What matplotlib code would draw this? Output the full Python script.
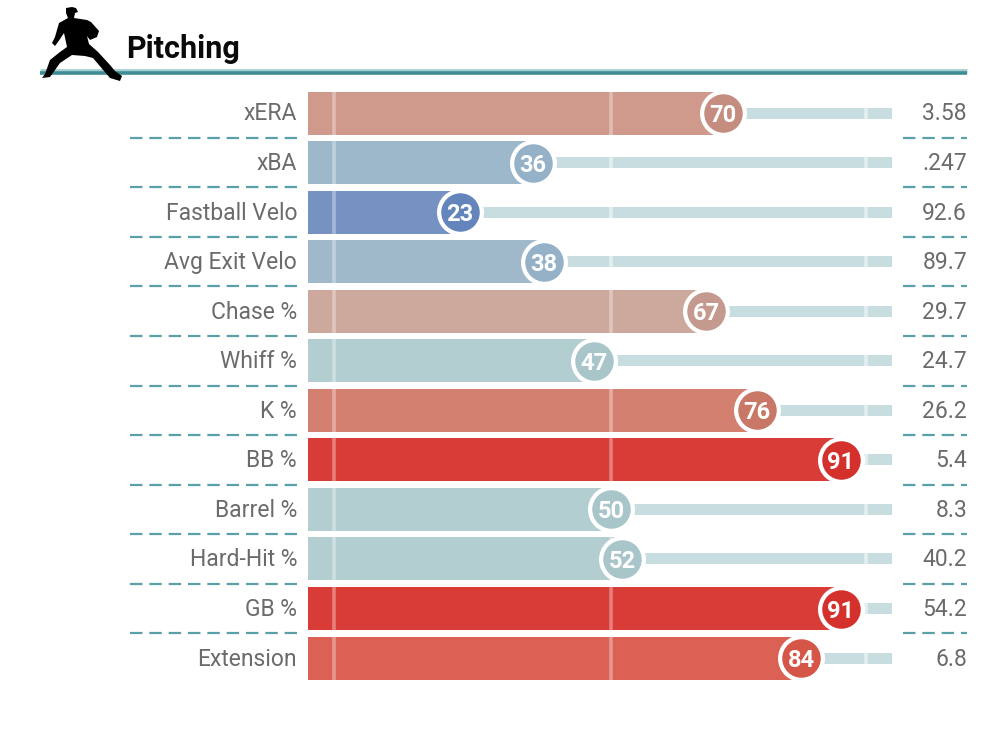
import matplotlib
matplotlib.use('Agg')
import matplotlib.pyplot as plt
from matplotlib.patches import Polygon

metrics = ['xERA', 'xBA', 'Fastball Velo', 'Avg Exit Velo', 'Chase %', 'Whiff %',
           'K %', 'BB %', 'Barrel %', 'Hard-Hit %', 'GB %', 'Extension']
percentiles = [70, 36, 23, 38, 67, 47, 76, 91, 50, 52, 91, 84]
stats = ['3.58', '.247', '92.6', '89.7', '29.7', '24.7', '26.2', '5.4', '8.3', '40.2', '54.2', '6.8']
bar_colors = ['#cf9a8c', '#9db8cb', '#7592c2', '#9fb9cb', '#cda89c', '#b2ced1',
              '#d48070', '#d93c37', '#b3ced1', '#b3ced1', '#d93c37', '#da6153']
dot_colors = ['#c58c80', '#94b1c8', '#6485bb', '#94b1c8', '#c59a8e', '#a8c5c9',
              '#c97868', '#d4302c', '#a8c5c9', '#a8c5c9', '#d4302c', '#d55547']
guide_lines = [0.5, 50, 95.5]

TEAL = '#3f8c93'
TRACK = '#c8dde0'
FONT = ['Roboto', 'DejaVu Sans']

# pixel layout of the reference
W, H = 1005, 733
X0, PX_PER_PCT = 331, 5.6
Y0, ROW = 113, 49.55

def px(x):
    return (x - X0) / PX_PER_PCT

def py(y):
    return (y - Y0) / ROW

fig = plt.figure(figsize=(W / 100, H / 100), dpi=100)
ax = fig.add_axes([0, 0, 1, 1])
ax.set_xlim(px(0), px(W))
ax.set_ylim(py(H), py(0))
ax.axis('off')

bar_h = 43 / ROW
track_h = 11 / ROW
bar_left = px(308)
text_shift = 1.5 / ROW

for i, (name, pct, stat) in enumerate(zip(metrics, percentiles, stats)):
    ax.barh(i, 100.1 - pct, left=pct, height=track_h, color=TRACK, zorder=1)
    ax.barh(i, pct - bar_left, left=bar_left, height=bar_h, color=bar_colors[i], zorder=2)
    # guides: full height over the bar, thin over the track
    for g in guide_lines:
        half = bar_h / 2 if g < pct else track_h / 2
        alpha = 0.35 if g < pct else 0.5
        ax.plot([g, g], [i - half, i + half], color='white', alpha=alpha, lw=2.6,
                solid_capstyle='butt', zorder=3)
    ax.scatter(pct, i, s=(47 * 0.72) ** 2, color='white', linewidths=0, zorder=4)
    ax.scatter(pct, i, s=(38.5 * 0.72) ** 2, color=dot_colors[i], linewidths=0, zorder=5)
    ax.text(pct, i, str(pct), ha='center', va='center_baseline', color='white', fontsize=17,
            fontweight='bold', family=FONT, zorder=6)
    ax.text(px(297), i - text_shift, name, ha='right', va='center_baseline', color='#6b6b6b',
            fontsize=16.5, family=FONT)
    ax.text(px(967), i - text_shift, stat, ha='right', va='center_baseline', color='#6b6b6b',
            fontsize=16.5, family=FONT)

# dashed separators between rows
for i in range(len(metrics) - 1):
    y = i + 0.5
    ax.plot([px(130), px(297)], [y, y], color='#5aa0a8', lw=1.6, dashes=(5.6, 3.1), zorder=1)
    ax.plot([px(903), px(967)], [y, y], color='#5aa0a8', lw=1.6, dashes=(5.6, 3.1), zorder=1)

# header rule and title
ax.plot([px(40), px(967)], [py(71), py(71)], color='#a9d0d3', lw=3.6, solid_capstyle='butt', zorder=1)
ax.plot([px(40), px(967)], [py(72.5), py(72.5)], color=TEAL, lw=2.6, solid_capstyle='butt', zorder=1)
ax.text(px(126), py(46), 'Pitching', ha='left', va='center_baseline', color='#0a0a0a', fontsize=22,
        fontweight='bold', family=FONT)

# pitcher silhouette
pitcher = [(66, 8), (72, 7), (76, 8), (78, 12), (75, 13), (74, 18), (87, 20), (91, 22), (99, 31),
           (97, 37), (90, 40), (87, 36), (89, 44), (98, 52), (110, 65), (115, 71), (122, 76), (120, 81),
           (110, 78), (93, 58), (85, 56), (72, 55), (60, 63), (50, 77), (42, 78), (45, 74), (50, 60),
           (60, 52), (67, 47), (64, 33), (58, 42), (55, 46), (52, 43), (55, 37), (59, 23), (68, 18), (66, 13)]
ax.add_patch(Polygon([(px(x), py(y)) for x, y in pitcher], closed=True, color='black', lw=0, zorder=7))

fig.savefig('out.png', dpi=100)
